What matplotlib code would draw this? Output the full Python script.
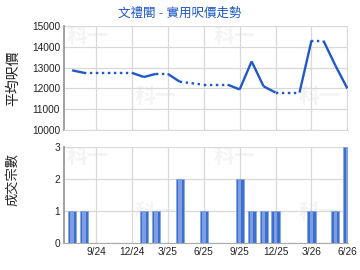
import numpy as np
import matplotlib
matplotlib.use("Agg")
import matplotlib.pyplot as plt

plt.rcParams['font.family'] = ['Liberation Sans', 'Noto Sans CJK TC', 'DejaVu Sans']

# 月份 (7/24 .. 6/26)
months = ['7/24', '8/24', '9/24', '10/24', '11/24', '12/24',
          '1/25', '2/25', '3/25', '4/25', '5/25', '6/25',
          '7/25', '8/25', '9/25', '10/25', '11/25', '12/25',
          '1/26', '2/26', '3/26', '4/26', '5/26', '6/26']
# 平均呎價
price = [12870, 12750, 12750, 12750, 12750, 12750,
         12550, 12700, 12700, 12320, 12250, 12180,
         12180, 12180, 11950, 13300, 12100, 11800,
         11800, 11800, 14300, 14300, 13100, 12000]
# 每段線是否實線 (segment i: month i -> i+1)
solid = [1, 0, 0, 0, 0, 1, 1, 0, 1, 0, 0, 0, 0, 1, 1, 1, 1, 0, 0, 1, 0, 1, 1]
# 成交宗數
deals = [1, 1, 0, 0, 0, 0, 1, 1, 0, 2, 0, 1,
         0, 0, 2, 1, 1, 1, 0, 0, 1, 0, 1, 3]
tick_labels = ['9/24', '12/24', '3/25', '6/25', '9/25', '12/25', '3/26', '6/26']

x = np.arange(len(months))
tick_pos = [months.index(t) for t in tick_labels]

fig = plt.figure(figsize=(3.6, 2.7), dpi=100)
ax1 = fig.add_axes([0.1786, 0.5185, 0.788, 0.385])
ax2 = fig.add_axes([0.1786, 0.0989, 0.788, 0.3556])

xlim = (-0.65, 23.05)
grid_c = '#d8d8d8'
line_c = '#2058c8'

for ax in (ax1, ax2):
    ax.set_xlim(*xlim)
    ax.set_xticks(tick_pos)
    ax.grid(True, color=grid_c, lw=0.9)
    ax.set_axisbelow(True)
    ax.tick_params(length=0, labelsize=7.3, colors='#222222', pad=3)
    for s in ('top', 'right'):
        ax.spines[s].set_visible(False)
    ax.spines['left'].set_color('#999999')
    ax.spines['left'].set_linewidth(1.3)
    ax.spines['bottom'].set_color('#aaaaaa')
    # 水印
    for wx, wy in [(0.08, 0.9), (0.6, 0.9), (0.32, 0.32), (0.9, 0.32)]:
        ax.text(wx, wy, '科一', transform=ax.transAxes, fontsize=15,
                fontweight='bold', color='#f4f4f4', family='Noto Sans CJK TC',
                ha='center', va='center', zorder=0, clip_on=True)

# 上: 呎價
ax1.set_ylim(10000, 15000)
ax1.set_yticks(range(10000, 15001, 1000))
ax1.set_xticklabels([])
ax1.spines['bottom'].set_color(grid_c)
for i in range(len(x) - 1):
    ax1.plot(x[i:i + 2], price[i:i + 2], color=line_c, lw=1.7,
             ls='-' if solid[i] else (0, (1, 1.5)), solid_capstyle='butt')

# 下: 宗數
ax2.set_ylim(0, 3)
ax2.set_yticks([0, 1, 2, 3])
ax2.set_xticklabels(tick_labels)
ax2.bar(x, deals, width=0.68, color='#3d6fd0', edgecolor='#86a6e6', lw=0.6, zorder=2)
ax2.bar(x, deals, width=0.3, color='#7d9fe2', lw=0, zorder=3)

fig.text(0.5, 0.948, '文禮閣 - 實用呎價走勢', ha='center', va='center',
         fontsize=9, color='#1a55c8', family=['Liberation Sans', 'Noto Sans CJK TC'])
fig.text(0.036, 0.711, '平均呎價', rotation=90, ha='center', va='center',
         fontsize=10, color='#222222')
fig.text(0.036, 0.335, '成交宗數', rotation=90, ha='center', va='center',
         fontsize=9.5, color='#222222')

fig.savefig('out.png', dpi=100)
